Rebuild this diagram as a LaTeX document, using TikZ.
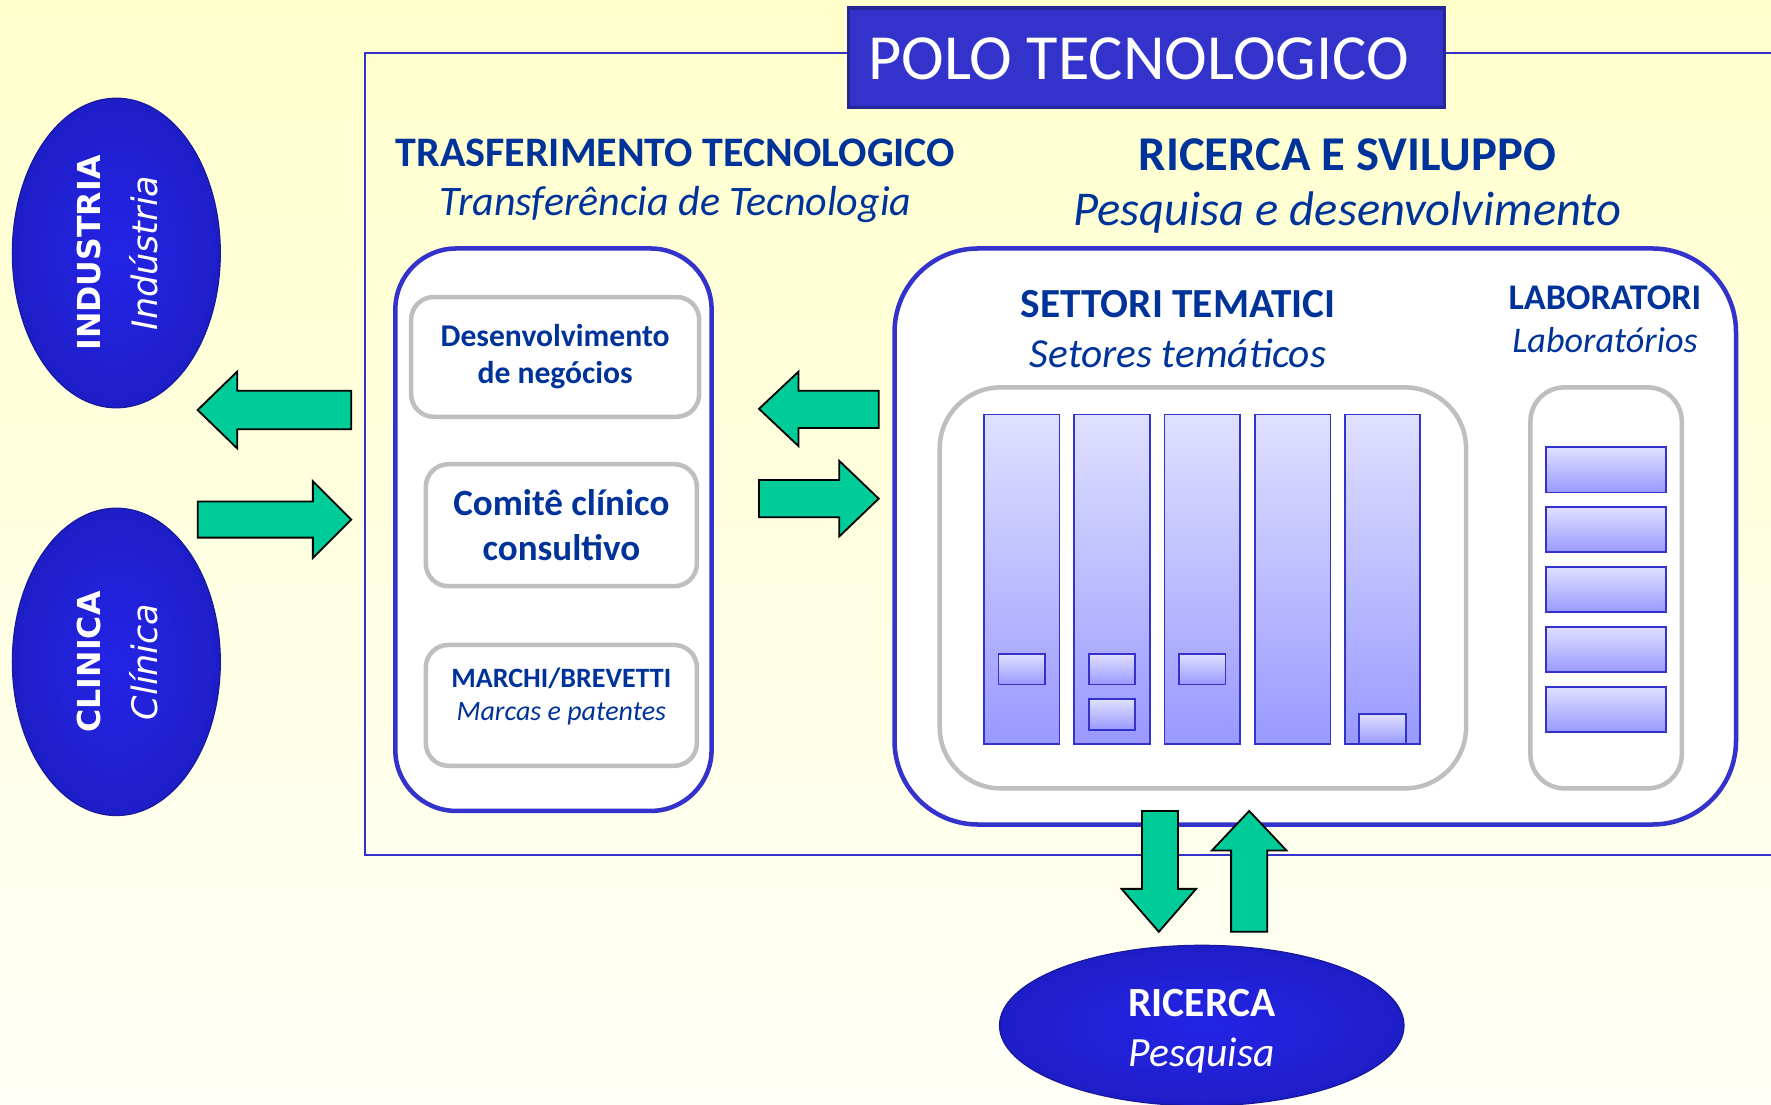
\documentclass[tikz,border=0pt]{standalone}
\usepackage{fontspec}
\setmainfont{Carlito}
\newfontfamily\dvfont{DejaVu Sans}
\usetikzlibrary{shapes.geometric}
\definecolor{txtblue}{RGB}{0,51,153}
\definecolor{frameblue}{RGB}{51,51,204}
\definecolor{polofill}{RGB}{51,51,204}
\definecolor{poloedge}{RGB}{38,38,150}
\definecolor{arrowgreen}{RGB}{0,204,153}
\definecolor{boxgrey}{RGB}{191,191,191}
\definecolor{bgtop}{RGB}{255,255,204}
\definecolor{bgbot}{RGB}{255,255,247}
\definecolor{colTop}{RGB}{224,224,255}
\definecolor{colBot}{RGB}{153,153,255}
\definecolor{ellIn}{RGB}{36,36,230}
\definecolor{ellOut}{RGB}{30,30,200}
\begin{document}
\begin{tikzpicture}[x=0.5pt,y=-0.5pt,
  sz/.style 2 args={minimum width=#1*0.5pt, minimum height=#2*0.5pt},
  bluebox/.style={draw=frameblue, line width=2pt, fill=white, rectangle, inner sep=0pt},
  greybox/.style={draw=boxgrey, line width=2pt, fill=white, rectangle, inner sep=0pt, rounded corners=10pt},
  bar/.style={draw=frameblue, line width=0.8pt, rectangle, inner sep=0pt, top color=colTop, bottom color=colBot},
  oval/.style={ellipse, inner sep=0pt, shading=radial, inner color=ellIn, outer color=ellOut, draw=ellOut!80!black, line width=0.6pt},
  blockarrow/.style={fill=arrowgreen, draw=black, line width=0.8pt, line join=miter},
  head/.style={text=txtblue, font=\bfseries, anchor=base},
  sub/.style={text=txtblue, font=\itshape, anchor=base},
  ovaltext/.style={rotate=90, text=white, align=center, inner sep=0pt},
]
% background
\shade[top color=bgtop, bottom color=bgbot] (0,0) rectangle (1568,978);
\useasboundingbox (0,0) rectangle (1568,978);

% outer frame of the Polo
\draw[frameblue, line width=1pt] (1568,47) -- (323,47) -- (323,757) -- (1568,757);

% title box
\node[fill=polofill, draw=poloedge, line width=1.5pt, sz={528}{88}, inner sep=0pt] (polo) at (1015,51) {};
\node[text=white, anchor=base, inner sep=0pt, font=\fontsize{28.5}{30}\selectfont] (polotxt) at (1008,70) {POLO TECNOLOGICO};

% side ellipses
\node[oval, sz={184}{274}] (ind) at (103,224) {};
\node[ovaltext, font=\dvfont\fontsize{14}{25}\selectfont] (indtxt) at (104,224) {\bfseries INDUSTRIA\\\fontsize{15.5}{25}\selectfont\itshape Indústria};
\node[oval, sz={184}{272}] (cli) at (103,586) {};
\node[ovaltext, font=\dvfont\fontsize{14}{25}\selectfont] (clitxt) at (104,586) {\bfseries CLINICA\\\fontsize{15.5}{25}\selectfont\itshape Clínica};

% bottom ellipse
\node[oval, sz={358}{142}] (ric) at (1064,908) {};
\node[anchor=base, text=white, font=\bfseries\fontsize{18.4}{20}\selectfont, inner sep=0pt] (rictxt) at (1064,900) {RICERCA};
\node[anchor=base, text=white, font=\itshape\fontsize{18.4}{20}\selectfont, inner sep=0pt] (pestxt) at (1064,944) {Pesquisa};

% section headings
\node[head, font=\bfseries\fontsize{18.6}{20}\selectfont] (tthead) at (598,147) {TRASFERIMENTO TECNOLOGICO};
\node[sub, font=\itshape\fontsize{18.6}{20}\selectfont] (ttsub) at (598,191) {Transferência de Tecnologia};
\node[head, font=\bfseries\fontsize{21.5}{23}\selectfont] (rshead) at (1193,151) {RICERCA E SVILUPPO};
\node[sub, font=\itshape\fontsize{21.5}{23}\selectfont] (rssub) at (1193,200) {Pesquisa e desenvolvimento};

% technology transfer box
\node[bluebox, rounded corners=27pt, sz={280}{498}] (tt) at (490,469) {};
\node[greybox, sz={255}{106}, align=center, text=txtblue, font=\bfseries\fontsize{14}{16.5}\selectfont] (dev) at (491.5,316) {Desenvolvimento\\de negócios};
\node[greybox, sz={240}{108}, align=center, text=txtblue, font=\bfseries\fontsize{16.4}{20}\selectfont] (com) at (497,465) {Comitê clínico\\consultivo};
\node[greybox, sz={240}{107}] (mar) at (497,624.5) {};
\node[head, font=\bfseries\fontsize{12.4}{14}\selectfont] (martxt) at (497,609) {MARCHI/BREVETTI};
\node[sub, font=\itshape\fontsize{12.4}{14}\selectfont] (marsub) at (497,638) {Marcas e patentes};

% research and development box
\node[bluebox, rounded corners=37pt, sz={745}{510}] (rs) at (1164.5,475) {};
\node[head, font=\bfseries\fontsize{18.3}{20}\selectfont] (sethead) at (1043,281) {SETTORI TEMATICI};
\node[sub, font=\itshape\fontsize{18.3}{20}\selectfont] (setsub) at (1043,325) {Setores temáticos};
\node[head, font=\bfseries\fontsize{16}{18}\selectfont] (labhead) at (1421,274) {LABORATORI};
\node[sub, font=\itshape\fontsize{16}{18}\selectfont] (labsub) at (1421,312) {Laboratórios};

\node[greybox, rounded corners=27pt, sz={466}{355}] (set) at (1065,520.5) {};
\node[greybox, rounded corners=15pt, sz={134}{355}] (lab) at (1422,520.5) {};

% thematic sectors
\foreach \cx [count=\i] in {904.5,984.5,1064.5,1144.5,1224}
  \node[bar, sz={67}{292}] (col\i) at (\cx,513) {};
\node[bar, sz={41}{27}] (sq1) at (904.5,592.5) {};
\node[bar, sz={41}{27}] (sq2) at (984.5,592.5) {};
\node[bar, sz={41}{27}] (sq3) at (984.5,632.5) {};
\node[bar, sz={41}{27}] (sq4) at (1064.5,592.5) {};
\node[bar, sz={41}{27}] (sq5) at (1224,645.5) {};

% laboratories
\foreach \cy [count=\i] in {416,469,522,575,628}
  \node[bar, sz={106}{40}] (lb\i) at (1422,\cy) {};

% block arrows
\draw[blockarrow] (311,346) -- (210,346) -- (210,329) -- (175,363) -- (210,397) -- (210,380) -- (311,380) -- cycle;
\draw[blockarrow] (175,444) -- (277,444) -- (277,426) -- (311,460) -- (277,494) -- (277,476) -- (175,476) -- cycle;
\draw[blockarrow] (778,346) -- (707,346) -- (707,329) -- (672,362) -- (707,395) -- (707,379) -- (778,379) -- cycle;
\draw[blockarrow] (672,425) -- (743,425) -- (743,408) -- (778,441.5) -- (743,475) -- (743,458) -- (672,458) -- cycle;
\draw[blockarrow] (1011,718) -- (1043,718) -- (1043,787) -- (1059,787) -- (1026,825) -- (993,787) -- (1011,787) -- cycle;
\draw[blockarrow] (1090,825) -- (1090,753) -- (1073,753) -- (1106,718) -- (1139,753) -- (1122,753) -- (1122,825) -- cycle;
\end{tikzpicture}
\end{document}
